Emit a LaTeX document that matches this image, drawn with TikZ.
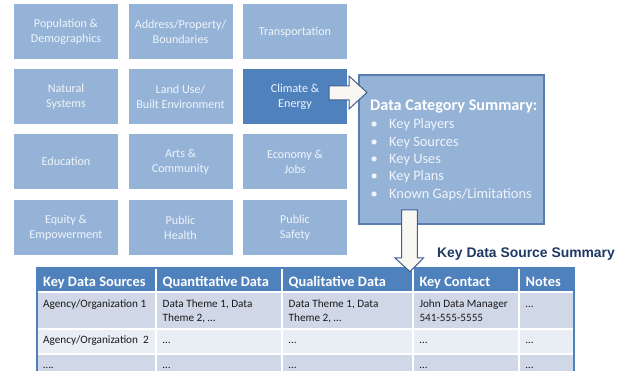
\documentclass[tikz,border=0pt]{standalone}
\usepackage{fontspec}
\setmainfont{Carlito}
\newfontfamily\arialfont{Liberation Sans}
\definecolor{boxblue}{HTML}{95B3D7}
\definecolor{darkblue}{HTML}{4F81BD}
\definecolor{boxtext}{HTML}{F0F4FA}
\definecolor{sumborder}{HTML}{5A7DB0}
\definecolor{arrowfill}{HTML}{F9F7F2}
\definecolor{arrowedge}{HTML}{3F5F8F}
\definecolor{rowA}{HTML}{D0D8E8}
\definecolor{rowB}{HTML}{E9EDF4}
\definecolor{navy}{HTML}{1F3864}
\definecolor{celltext}{HTML}{1A1A1A}
\begin{document}
\begin{tikzpicture}[x=1pt,y=-1pt,
  catbox/.style={fill=boxblue,inner sep=0pt,minimum width=104pt,minimum height=55pt,
    align=center,text=boxtext,font=\fontsize{12.1}{15}\selectfont},
  hot/.style={fill=darkblue},
  sumbox/.style={fill=boxblue,draw=sumborder,line width=1.2pt,inner sep=0pt,
    minimum width=185pt,minimum height=149pt},
  sumtitle/.style={anchor=base west,inner sep=0pt,text=white,font=\fontsize{16.2}{17}\selectfont\bfseries},
  sumitem/.style={anchor=base west,inner sep=0pt,text=boxtext,font=\fontsize{14.4}{16}\selectfont},
  blockarrow/.style={fill=arrowfill,draw=arrowedge,line width=1pt,line join=miter},
  cell/.style={draw=white,line width=1.3pt},
  headtext/.style={anchor=base west,inner sep=0pt,text=white,font=\fontsize{14.4}{15}\selectfont\bfseries},
  celltxt/.style={anchor=base west,inner sep=0pt,text=celltext,align=left,font=\fontsize{11.2}{14}\selectfont},
]
\useasboundingbox (0,0) rectangle (630,371);
\clip (0,0) rectangle (630,371);
\fill[white] (0,0) rectangle (630,371);

% category grid
\node[catbox] (pop) at (66,32) {Population \&\\Demographics};
\node[catbox] (addr) at (180.5,32) {Address/Property/\\Boundaries};
\node[catbox] (trans) at (295,32) {Transportation};
\node[catbox] (nat) at (66,96.5) {Natural\\Systems};
\node[catbox] (land) at (180.5,96.5) {Land Use/\\Built Environment};
\node[catbox,hot] (clim) at (295,96.5) {Climate \&\\Energy};
\node[catbox] (edu) at (66,161.5) {Education};
\node[catbox] (arts) at (180.5,161.5) {Arts \&\\Community};
\node[catbox] (econ) at (295,161.5) {Economy \&\\Jobs};
\node[catbox] (eq) at (66,227.5) {Equity \&\\Empowerment};
\node[catbox] (ph) at (180.5,227.5) {Public\\Health};
\node[catbox] (ps) at (295,227.5) {Public\\Safety};

% summary box
\node[sumbox] (sum) at (451.5,149.5) {};
\node[sumtitle] (st) at (370,111) {Data Category Summary:};
\foreach \t [count=\i] in {Key Players,Key Sources,Key Uses,Key Plans,Known Gaps/Limitations}{
  \node[sumitem] (b\i) at (370.5,{129+17.3*(\i-1)}) {•};
  \node[sumitem] (s\i) at (389,{129+17.3*(\i-1)}) {\t};
}

% title
\node[anchor=base west,inner sep=0pt,text=navy,font=\arialfont\fontsize{13.9}{15}\selectfont\bfseries] (ttl) at (437,258) {Key Data Source Summary};

% table
\foreach \a/\b in {37/156,156/282,282/413,413/519,519/574}{
  \fill[darkblue] (\a,268) rectangle (\b,292);
  \filldraw[cell,fill=rowA] (\a,292) rectangle (\b,329);
  \filldraw[cell,fill=rowB] (\a,329) rectangle (\b,354);
  \filldraw[cell,fill=rowA] (\a,354) rectangle (\b,385);
  \draw[cell] (\a,268) -- (\a,292);
}
\draw[darkblue,line width=2pt] (37,385) -- (37,268) -- (574,268) -- (574,385);

\node[headtext] (h1) at (43,286.7) {Key Data Sources};
\node[headtext] (h2) at (162.5,286.7) {Quantitative Data};
\node[headtext] (h3) at (288.5,286.7) {Qualitative Data};
\node[headtext] (h4) at (419.3,286.7) {Key Contact};
\node[headtext] (h5) at (525.5,286.7) {Notes};

\node[celltxt] (r1c1) at (43,307.7) {Agency/Organization 1};
\node[celltxt] (r1c2) at (162.5,321.7) {Data Theme 1, Data\\Theme 2, …};
\node[celltxt] (r1c3) at (288.5,321.7) {Data Theme 1, Data\\Theme 2, …};
\node[celltxt] (r1c4) at (419.3,321.7) {John Data Manager\\541-555-5555};
\node[celltxt] (r1c5) at (525.5,307.7) {…};
\node[celltxt] (r2c1) at (43,344) {Agency/Organization\ \ 2};
\node[celltxt] (r2c2) at (162.5,344) {…};
\node[celltxt] (r2c3) at (288.5,344) {…};
\node[celltxt] (r2c4) at (419.3,344) {…};
\node[celltxt] (r2c5) at (525.5,344) {…};
\node[celltxt] (r3c1) at (43,368.3) {….};
\node[celltxt] (r3c2) at (162.5,368.3) {…};
\node[celltxt] (r3c3) at (288.5,368.3) {…};
\node[celltxt] (r3c4) at (419.3,368.3) {…};
\node[celltxt] (r3c5) at (525.5,368.3) {…};

% block arrows
\draw[blockarrow] (329,86) -- (349,86) -- (349,76) -- (367,92.5) -- (349,109) -- (349,100) -- (329,100) -- cycle;
\draw[blockarrow] (401.7,210) -- (417.3,210) -- (417.3,258) -- (423.5,258) -- (410,271.7) -- (395,258) -- (401.7,258) -- cycle;
\end{tikzpicture}
\end{document}
